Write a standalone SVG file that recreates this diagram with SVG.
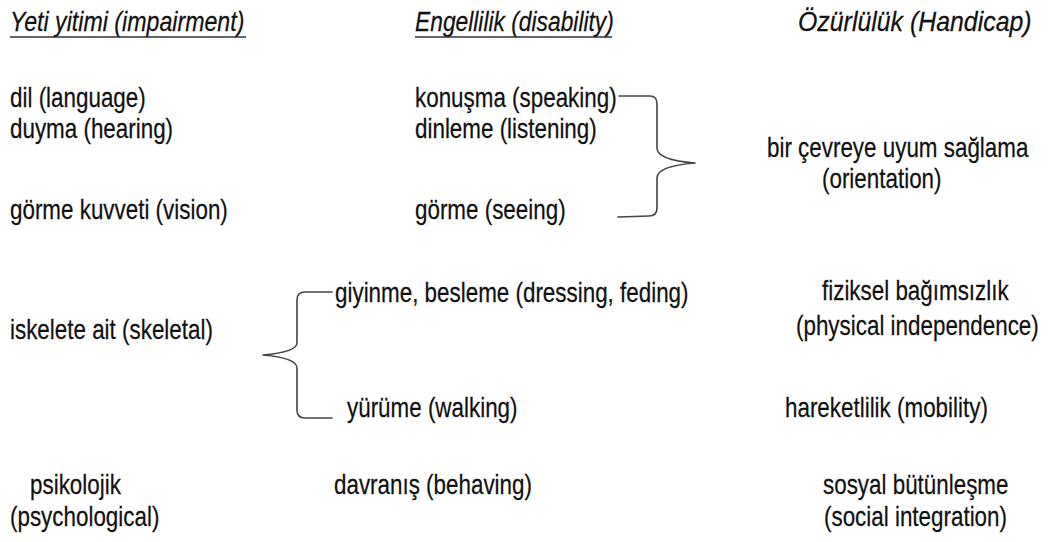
<svg xmlns="http://www.w3.org/2000/svg" width="1052" height="542" viewBox="0 0 1052 542">
<style>
text{font-family:"Liberation Sans",Arial,sans-serif;font-size:28.5px;fill:#111;stroke:#111;stroke-width:0.25}
.h{font-style:italic}
.ul{stroke:#333;stroke-width:1.5}
.brace{fill:none;stroke:#444;stroke-width:1.6;stroke-linecap:round;stroke-linejoin:round}
</style>
<g id="headers">
<g id="h1"><text class="h" transform="translate(10,30.5) scale(0.8,1)" textLength="293" lengthAdjust="spacingAndGlyphs">Yeti yitimi (impairment)</text><line class="ul" x1="10" y1="37" x2="246" y2="37"/></g>
<g id="h2"><text class="h" transform="translate(415,30.5) scale(0.8,1)">Engellilik (disability)</text><line class="ul" x1="415" y1="37" x2="612" y2="37"/></g>
<g id="h3"><text class="h" transform="translate(798,30.5) scale(0.8,1)" textLength="292" lengthAdjust="spacingAndGlyphs">Özürlülük (Handicap)</text></g>
</g>
<g id="impairment">
<text id="n-dil" transform="translate(10,107) scale(0.786,1)">dil (language)</text>
<text id="n-duyma" transform="translate(10,138) scale(0.786,1)">duyma (hearing)</text>
<text id="n-gorme-k" transform="translate(10,219) scale(0.786,1)">görme kuvveti (vision)</text>
<text id="n-iskelet" transform="translate(10,339) scale(0.786,1)">iskelete ait (skeletal)</text>
<text id="n-psiko" transform="translate(30,494) scale(0.786,1)">psikolojik</text>
<text id="n-psycho" transform="translate(10,526) scale(0.786,1)">(psychological)</text>
</g>
<g id="disability">
<text id="n-konusma" transform="translate(415,107) scale(0.786,1)">konuşma (speaking)</text>
<text id="n-dinleme" transform="translate(415,138) scale(0.786,1)">dinleme (listening)</text>
<text id="n-gorme" transform="translate(415,219) scale(0.786,1)">görme (seeing)</text>
<text id="n-giyinme" transform="translate(335,302) scale(0.786,1)">giyinme, besleme (dressing, feding)</text>
<text id="n-yurume" transform="translate(347,417) scale(0.786,1)">yürüme (walking)</text>
<text id="n-davranis" transform="translate(334,494) scale(0.786,1)">davranış (behaving)</text>
</g>
<g id="handicap">
<text id="n-cevre" transform="translate(767,157) scale(0.786,1)">bir çevreye uyum sağlama</text>
<text id="n-orient" transform="translate(822,188) scale(0.786,1)">(orientation)</text>
<text id="n-fiziksel" transform="translate(822,300) scale(0.786,1)">fiziksel bağımsızlık</text>
<text id="n-physical" transform="translate(796,335) scale(0.786,1)">(physical independence)</text>
<text id="n-hareket" transform="translate(785,417) scale(0.786,1)">hareketlilik (mobility)</text>
<text id="n-sosyal" transform="translate(823,494) scale(0.786,1)">sosyal bütünleşme</text>
<text id="n-social" transform="translate(824,526) scale(0.786,1)">(social integration)</text>
</g>
<g id="connectors">
<path class="brace" d="M619,96 L650,96 Q657,96 657,104 L657,148 Q657,160 695,163 Q657,166 657,178 L657,208 Q657,216 649,216 L618,217"/>
<path class="brace" d="M332,292 L305,292 Q297,292 297,300 L297,343 Q297,352 263,355 Q297,358 297,368 L297,410 Q297,418 305,418 L332,418"/>
</g>
</svg>
